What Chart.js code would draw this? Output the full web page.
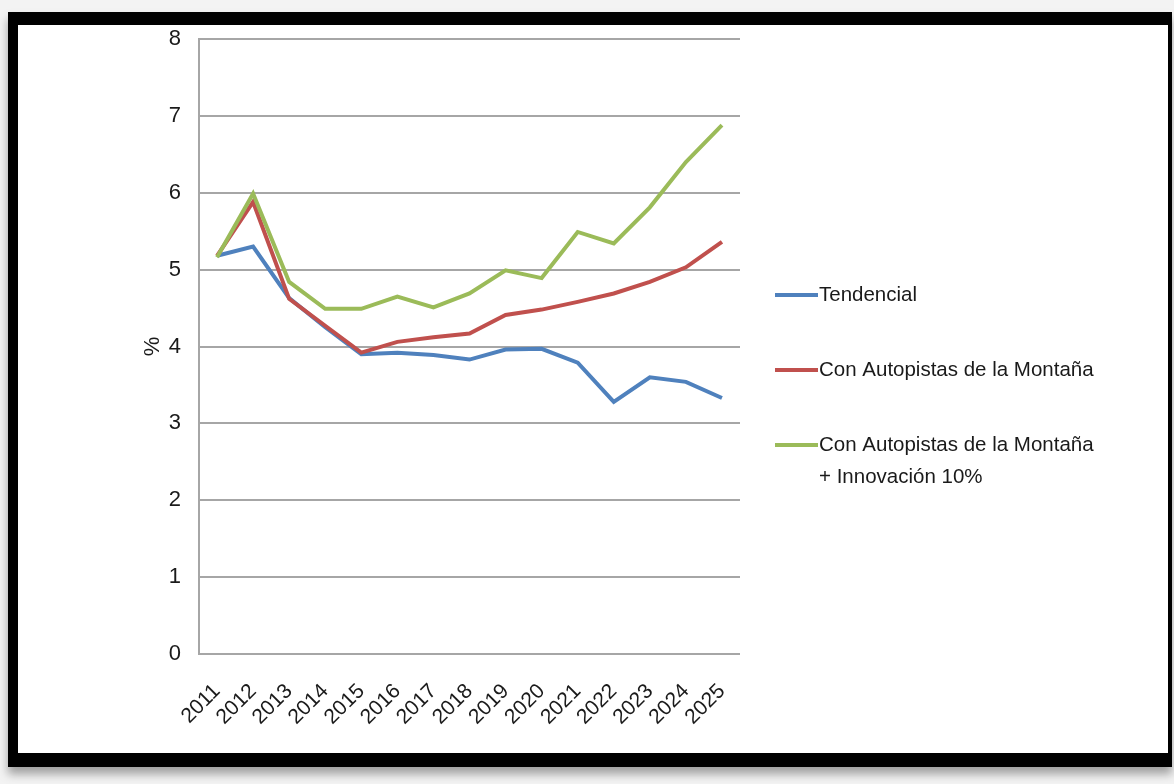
<!DOCTYPE html>
<html>
<head>
<meta charset="utf-8">
<script src="https://cdn.jsdelivr.net/npm/chart.js@4"></script>
<style>
    html, body { margin: 0; padding: 0; width: 1174px; height: 784px; overflow: hidden; background: #f3f3f3; }
    #frame {
        position: absolute; left: 8px; top: 12px;
        width: 1150px; height: 728px;
        border-style: solid; border-color: #000;
        border-width: 13px 4px 14px 10px;
        background: #fff;
        box-shadow: 0 7px 9px rgba(0, 0, 0, 0.35);
    }
    #frame canvas { display: block; }
</style>
</head>
<body>
<div id="frame"><canvas id="growthChart" width="1150" height="728"></canvas></div>
<script>
const years = ['2011', '2012', '2013', '2014', '2015', '2016', '2017', '2018',
    '2019', '2020', '2021', '2022', '2023', '2024', '2025'];
const tendencial = [5.18, 5.30, 4.63, 4.25, 3.90, 3.92, 3.89, 3.83, 3.96, 3.97, 3.79, 3.28, 3.60, 3.54, 3.33];
const autopistas = [5.18, 5.88, 4.62, 4.27, 3.92, 4.06, 4.12, 4.17, 4.41, 4.48, 4.58, 4.69, 4.84, 5.03, 5.36];
const innovacion = [5.16, 5.99, 4.84, 4.49, 4.49, 4.65, 4.51, 4.69, 4.99, 4.89, 5.49, 5.34, 5.81, 6.40, 6.88];
const seriesNames = ['Tendencial', 'Con Autopistas de la Montaña', ['Con Autopistas de la Montaña', '+ Innovación 10%']];
const seriesColors = ['#4f81bd', '#c0504d', '#9bbb59'];

const FONT = '"Liberation Sans", Arial, sans-serif';
const GRID = '#a6a6a6';

// legend drawn by hand so the last label can wrap onto two lines
const sideLegend = {
    id: 'sideLegend',
    afterDraw(chart) {
        const ctx = chart.ctx;
        const area = chart.chartArea;
        const x0 = area.right + 35;
        ctx.save();
        ctx.font = '20.5px ' + FONT;
        ctx.fillStyle = '#1a1a1a';
        ctx.textBaseline = 'middle';
        chart.data.datasets.forEach((ds, i) => {
            const y = area.top + 256 + i * 75;
            ctx.strokeStyle = ds.borderColor;
            ctx.lineWidth = 4;
            ctx.beginPath();
            ctx.moveTo(x0, y);
            ctx.lineTo(x0 + 43, y);
            ctx.stroke();
            const lines = [].concat(ds.label);
            lines.forEach((t, k) => ctx.fillText(t, x0 + 44, y + k * 32));
        });
        ctx.restore();
    }
};

const series = [tendencial, autopistas, innovacion];

new Chart(document.getElementById('growthChart'), {
    type: 'line',
    data: {
        labels: years,
        datasets: series.map((values, i) => ({
            label: seriesNames[i],
            data: values,
            borderColor: seriesColors[i],
            backgroundColor: seriesColors[i],
            borderWidth: 4,
            pointRadius: 0,
            tension: 0,
            order: 2 - i
        }))
    },
    options: {
        responsive: false,
        animation: false,
        layout: { padding: { top: 0, right: 428, left: 0, bottom: 0 } },
        plugins: {
            legend: { display: false },
            tooltip: { enabled: false }
        },
        scales: {
            x: {
                offset: true,
                grid: { display: false, drawTicks: false },
                border: { display: false },
                ticks: {
                    autoSkip: false,
                    minRotation: 45,
                    maxRotation: 45,
                    padding: 25,
                    color: '#1a1a1a',
                    font: { family: FONT, size: 21 }
                },
                afterFit: s => { s.height = 99; }
            },
            y: {
                min: 0,
                max: 8,
                grid: { color: GRID, lineWidth: 2, drawTicks: false },
                border: { color: GRID, width: 2 },
                ticks: {
                    stepSize: 1,
                    padding: 18,
                    color: '#1a1a1a',
                    font: { family: FONT, size: 22 }
                },
                title: {
                    display: true,
                    text: '%',
                    color: '#1a1a1a',
                    font: { family: FONT, size: 22 },
                    padding: { top: 122, bottom: 0 }
                },
                afterFit: s => {
                    s.width = 181;
                    s.paddingTop = 14; // tick padding would otherwise push the plot down
                }
            }
        }
    },
    plugins: [sideLegend]
});
</script>
</body>
</html>
